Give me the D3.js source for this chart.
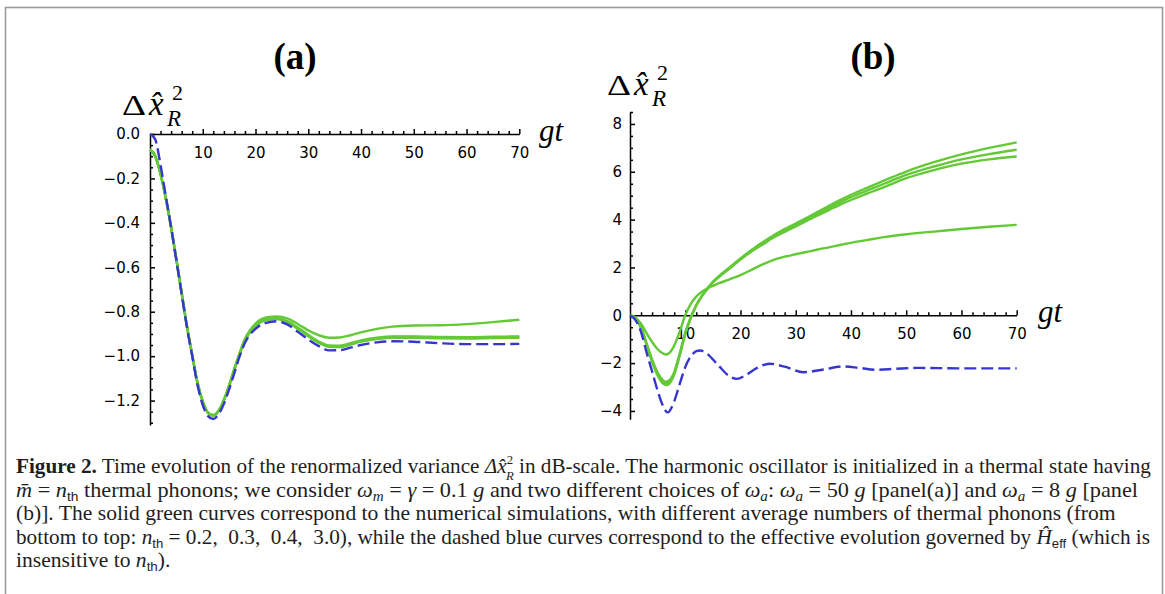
<!DOCTYPE html>
<html>
<head>
<meta charset="utf-8">
<script src="https://cdn.jsdelivr.net/npm/d3@7"></script>
<style>
  body { margin: 0; background: #fff; }
</style>
</head>
<body>
<div id="figure"></div>
<script>

/* DATA ***********************************************************************/

// Panel (a): omega_a = 50 g
var tA = [0,1,2,3,4,5,6,7,8,9,10,11,12,13,14,15,16,17,18,20,22,24,26,28,30,32,34,36,38,40,43,46,50,55,60,65,70];
var aBlue    = [0,-0.025,-0.14,-0.28,-0.42,-0.57,-0.72,-0.87,-1.0,-1.13,-1.22,-1.27,-1.283,-1.262,-1.215,-1.15,-1.075,-1.0,-0.94,-0.877,-0.85,-0.843,-0.857,-0.89,-0.925,-0.955,-0.974,-0.973,-0.962,-0.95,-0.938,-0.933,-0.935,-0.942,-0.946,-0.946,-0.945];
var aGreen02 = [-0.07,-0.1,-0.18,-0.29,-0.42,-0.565,-0.715,-0.865,-0.995,-1.12,-1.205,-1.255,-1.268,-1.248,-1.2,-1.135,-1.06,-0.99,-0.93,-0.865,-0.838,-0.833,-0.846,-0.877,-0.91,-0.94,-0.958,-0.959,-0.948,-0.935,-0.923,-0.917,-0.917,-0.92,-0.921,-0.919,-0.917];
var aGreen03 = [-0.07,-0.1,-0.18,-0.29,-0.42,-0.565,-0.715,-0.865,-0.995,-1.12,-1.205,-1.255,-1.267,-1.247,-1.199,-1.134,-1.059,-0.989,-0.928,-0.863,-0.836,-0.831,-0.844,-0.874,-0.907,-0.937,-0.955,-0.956,-0.945,-0.932,-0.92,-0.914,-0.914,-0.917,-0.918,-0.916,-0.914];
var aGreen04 = [-0.07,-0.1,-0.18,-0.29,-0.42,-0.565,-0.715,-0.865,-0.995,-1.12,-1.205,-1.255,-1.266,-1.246,-1.198,-1.133,-1.058,-0.988,-0.926,-0.861,-0.834,-0.829,-0.842,-0.871,-0.904,-0.934,-0.952,-0.953,-0.942,-0.929,-0.917,-0.911,-0.911,-0.914,-0.915,-0.913,-0.911];
var aGreen30 = [-0.07,-0.1,-0.18,-0.29,-0.42,-0.565,-0.715,-0.865,-0.995,-1.12,-1.205,-1.255,-1.265,-1.245,-1.196,-1.13,-1.055,-0.985,-0.922,-0.853,-0.826,-0.821,-0.83,-0.855,-0.884,-0.906,-0.917,-0.916,-0.906,-0.893,-0.877,-0.867,-0.862,-0.861,-0.856,-0.847,-0.836];

// Panel (b): omega_a = 8 g
var tB = [0,1,2,3,4,5,6,6.5,7,8,9,10,11,12,13,14,15,16,18,20,22,24,26,28,30,32,34,36,38,40,43,46,50,55,60,65,70];
var bGreen02 = [0,-0.1,-0.35,-0.75,-1.12,-1.42,-1.6,-1.64,-1.6,-1.27,-0.68,0.0,0.48,0.78,0.98,1.12,1.23,1.33,1.5,1.68,1.9,2.13,2.32,2.45,2.55,2.65,2.75,2.84,2.94,3.03,3.15,3.27,3.39,3.5,3.61,3.7,3.78];
var bGreen03 = [0,-0.12,-0.5,-1.18,-1.85,-2.4,-2.72,-2.78,-2.74,-2.38,-1.6,-0.72,-0.08,0.43,0.8,1.1,1.37,1.58,1.95,2.33,2.67,2.96,3.25,3.49,3.72,3.95,4.18,4.4,4.62,4.82,5.1,5.36,5.73,6.07,6.34,6.52,6.64];
var bGreen04 = [0,-0.12,-0.52,-1.2,-1.9,-2.46,-2.79,-2.85,-2.81,-2.43,-1.64,-0.76,-0.1,0.42,0.8,1.11,1.38,1.6,1.97,2.35,2.7,3.01,3.3,3.55,3.78,4.01,4.25,4.49,4.72,4.94,5.22,5.5,5.87,6.22,6.52,6.74,6.92];
var bGreen30 = [0,-0.13,-0.54,-1.23,-1.95,-2.52,-2.86,-2.92,-2.88,-2.48,-1.68,-0.8,-0.12,0.41,0.8,1.12,1.4,1.62,2.0,2.38,2.73,3.05,3.35,3.6,3.84,4.08,4.33,4.58,4.82,5.04,5.34,5.63,6.01,6.4,6.73,7.0,7.23];
var tBBlue = [0,1,2,3,4,5,6,6.8,8,9,10,11,12,12.7,14,16,18,19.3,21,23,25.3,28,31.4,35,38.6,41.5,44.7,48,52,56,60,65,70];
var bBlue  = [0,-0.2,-0.7,-1.55,-2.35,-3.15,-3.8,-4.06,-3.6,-2.87,-2.17,-1.72,-1.5,-1.47,-1.62,-2.1,-2.55,-2.66,-2.5,-2.2,-2.03,-2.15,-2.38,-2.27,-2.14,-2.2,-2.28,-2.24,-2.2,-2.21,-2.22,-2.22,-2.22];

// Ticks
var xTicks   = [10,20,30,40,50,60,70];
var xMinor   = [2,4,6,8,12,14,16,18,22,24,26,28,32,34,36,38,42,44,46,48,52,54,56,58,62,64,66,68];
var aYTicks  = [0,-0.2,-0.4,-0.6,-0.8,-1.0,-1.2];
var aYMinor  = [-0.05,-0.1,-0.15,-0.25,-0.3,-0.35,-0.45,-0.5,-0.55,-0.65,-0.7,-0.75,-0.85,-0.9,-0.95,-1.05,-1.1,-1.15,-1.25,-1.3];
var bYTicks  = [-4,-2,0,2,4,6,8];
var bYMinor  = [-3.5,-3,-2.5,-1.5,-1,-0.5,0.5,1,1.5,2.5,3,3.5,4.5,5,5.5,6.5,7,7.5,8.5];

// Caption, one array per printed line: [style, text]
var captionLines = [
  [['b','Figure 2.'],['r',' Time evolution of the renormalized variance '],['i','\u0394x\u0302'],['sup','2'],['supsub','R'],['r',' in dB-scale. The harmonic oscillator is initialized in a thermal state having']],
  [['i','m\u0304'],['r',' = '],['i','n'],['sub','th'],['r',' thermal phonons; we consider '],['i','\u03c9'],['subi','m'],['r',' = '],['i','\u03b3'],['r',' = 0.1 '],['i','g'],['r',' and two different choices of '],['i','\u03c9'],['subi','a'],['r',': '],['i','\u03c9'],['subi','a'],['r',' = 50 '],['i','g'],['r',' [panel(a)] and '],['i','\u03c9'],['subi','a'],['r',' = 8 '],['i','g'],['r',' [panel']],
  [['r','(b)]. The solid green curves correspond to the numerical simulations, with different average numbers of thermal phonons (from']],
  [['r','bottom to top: '],['i','n'],['sub','th'],['r',' = 0.2,  0.3,  0.4,  3.0), while the dashed blue curves correspond to the effective evolution governed by '],['i','H\u0302'],['sub','eff'],['r',' (which is']],
  [['r','insensitive to '],['i','n'],['sub','th'],['r',').']]
];

var drawChart = function(){

    /* SETTINGS ***************************************************************/

    const width = 1165;
    const height = 594;
    var green = '#64c936';
    var blue = '#3636cf';
    var tickFont = 'DejaVu Sans';
    var mathFont = 'Liberation Serif';

    var svg = d3.select('#figure')
        .append('svg')
        .attr('width', width)
        .attr('height', height);

    // frame round the whole figure
    svg.append('rect')
        .attr('x', 5.5).attr('y', 7.5)
        .attr('width', 1157).attr('height', 600)
        .attr('fill', 'none')
        .attr('stroke', '#9a9a9a')
        .attr('stroke-width', 1.6);

    /* PANELS *****************************************************************/

    var panels = [
        {
            title: '(a)', titleX: 295,
            xRange: [150, 519.3], yDomain: [-1.31, 0], yRange: [425, 134],
            yTicks: aYTicks, yMinor: aYMinor, fmt: d3.format('.1f'), pad: 10,
            green: [[tA, aGreen02], [tA, aGreen03], [tA, aGreen04], [tA, aGreen30]],
            blue: [tA, aBlue],
            labelX: 122, labelY: 115, gtX: 539, gtY: 141
        },
        {
            title: '(b)', titleX: 873,
            xRange: [630, 1016.7], yDomain: [-4.35, 8.5], yRange: [419.3, 112],
            yTicks: bYTicks, yMinor: bYMinor, fmt: d3.format('d'), pad: 8,
            green: [[tB, bGreen02], [tB, bGreen03], [tB, bGreen04], [tB, bGreen30]],
            blue: [tBBlue, bBlue],
            labelX: 607, labelY: 95, gtX: 1038, gtY: 322
        }
    ];

    panels.forEach(function(p){

        var x = d3.scaleLinear().domain([0, 70]).range(p.xRange);
        var y = d3.scaleLinear().domain(p.yDomain).range(p.yRange);

        var line = d3.line()
            .x(function(d){ return x(d[0]); })
            .y(function(d){ return y(d[1]); })
            .curve(d3.curveMonotoneX);

        var g = svg.append('g');

        // minor ticks first, then the major axes on top
        g.append('g')
            .attr('transform', 'translate(0,' + y(0) + ')')
            .call(d3.axisBottom(x).tickValues(xMinor).tickSize(-3).tickFormat(''))
            .call(function(a){ a.select('.domain').remove(); });
        g.append('g')
            .attr('transform', 'translate(' + x(0) + ',0)')
            .call(d3.axisLeft(y).tickValues(p.yMinor).tickSize(-3).tickFormat(''))
            .call(function(a){ a.select('.domain').remove(); });

        g.append('g')
            .attr('transform', 'translate(0,' + y(0) + ')')
            .call(d3.axisBottom(x)
                .tickValues(xTicks)
                .tickSizeInner(-5).tickSizeOuter(0)
                .tickPadding(13)
                .tickFormat(d3.format('d')));

        g.append('g')
            .attr('transform', 'translate(' + x(0) + ',0)')
            .call(d3.axisLeft(y)
                .tickValues(p.yTicks)
                .tickSizeInner(-5).tickSizeOuter(0)
                .tickPadding(p.pad)
                .tickFormat(p.fmt));

        g.selectAll('.tick line, .domain')
            .attr('stroke', '#000')
            .attr('stroke-width', 1.5);
        g.selectAll('.tick text')
            .attr('font-family', tickFont)
            .attr('font-size', 15)
            .attr('fill', '#000');

        // green numerical curves, dashed blue effective curve on top
        p.green.forEach(function(s){
            g.append('path')
                .datum(d3.zip(s[0], s[1]))
                .attr('d', line)
                .attr('fill', 'none')
                .attr('stroke', green)
                .attr('stroke-width', 2.4);
        });
        g.append('path')
            .datum(d3.zip(p.blue[0], p.blue[1]))
            .attr('d', line)
            .attr('fill', 'none')
            .attr('stroke', blue)
            .attr('stroke-width', 2.4)
            .attr('stroke-dasharray', '12,5');

        // panel title
        g.append('text')
            .attr('x', p.titleX).attr('y', 69)
            .attr('text-anchor', 'middle')
            .attr('font-family', mathFont)
            .attr('font-size', 37)
            .attr('font-weight', 'bold')
            .text(p.title);

        // y label: Delta x-hat squared, sub R
        var lx = p.labelX, ly = p.labelY;
        g.append('text')
            .attr('x', lx).attr('y', ly)
            .attr('font-family', mathFont).attr('font-size', 30)
            .attr('textLength', 24).attr('lengthAdjust', 'spacingAndGlyphs')
            .text('\u0394');
        g.append('text')
            .attr('x', lx + 27).attr('y', ly)
            .attr('font-family', mathFont).attr('font-size', 33)
            .attr('font-style', 'italic')
            .text('x\u0302');
        g.append('text')
            .attr('x', lx + 50).attr('y', ly - 15)
            .attr('font-family', mathFont).attr('font-size', 22)
            .text('2');
        g.append('text')
            .attr('x', lx + 45).attr('y', ly + 11)
            .attr('font-family', mathFont).attr('font-size', 23)
            .attr('font-style', 'italic')
            .text('R');

        // x label
        g.append('text')
            .attr('x', p.gtX).attr('y', p.gtY)
            .attr('font-family', mathFont).attr('font-size', 31)
            .attr('font-style', 'italic')
            .text('gt');
    });

    /* CAPTION ****************************************************************/

    var capSize = 21;
    var capStyles = {
        b:      { weight: 'bold' },
        r:      {},
        i:      { style: 'italic' },
        sub:    { family: 'Liberation Sans', size: 0.62, shift: 4 },
        subi:   { style: 'italic', size: 0.68, shift: 4 },
        sup:    { size: 0.6, shift: -9 },
        supsub: { style: 'italic', size: 0.6, shift: 7, dx: -7 }
    };
    var capX = 16;
    var capBase = [473, 496.5, 520, 543.5, 567];
    var capRight = [1152, 1139, 1116, 1151, null];
    var scales = [];

    captionLines.forEach(function(segs, li){
        var t = svg.append('text')
            .attr('font-family', mathFont)
            .attr('font-size', capSize)
            .attr('fill', '#1e1e1e')
            .style('white-space', 'pre');
        var prev = 0;
        segs.forEach(function(s){
            var st = capStyles[s[0]];
            var shift = st.shift || 0;
            var sp = t.append('tspan')
                .attr('dy', shift - prev)
                .text(s[1]);
            if (st.dx) sp.attr('dx', st.dx);
            if (st.weight) sp.attr('font-weight', st.weight);
            if (st.style) sp.attr('font-style', st.style);
            if (st.family) sp.attr('font-family', st.family);
            if (st.size) sp.attr('font-size', capSize * st.size);
            prev = shift;
        });
        var w = t.node().getBBox().width;
        var k = capRight[li] ? (capRight[li] - capX) / w : d3.mean(scales);
        scales.push(k);
        t.attr('transform', 'translate(' + capX + ',' + capBase[li] + ') scale(' + k + ',1)');
    });
}

window.addEventListener('load', drawChart);
</script>
</body>
</html>
